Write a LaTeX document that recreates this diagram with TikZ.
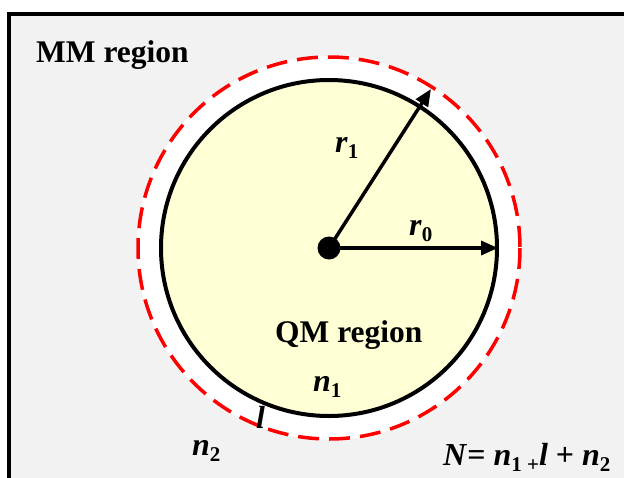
\documentclass[tikz,border=0pt]{standalone}
\usepackage{fontspec}
\setmainfont{Liberation Serif}
\usetikzlibrary{arrows.meta}
\definecolor{bggray}{HTML}{F2F2F2}
\definecolor{qmyellow}{HTML}{FFFFD6}
\newcommand{\bi}[1]{\textbf{\textit{#1}}}
\newcommand{\sbs}[1]{\raisebox{-0.2em}{\fontsize{21}{23}\selectfont\textbf{#1}}}
\tikzset{
  lbl/.style={anchor=base west, inner sep=0pt, font=\fontsize{32}{36}\selectfont},
  big/.style={anchor=base west, inner sep=0pt, font=\fontsize{31.5}{34}\selectfont\bfseries},
  radius arrow/.style={line width=3.5pt, -{Triangle[length=17pt,width=14pt]}},
}
\begin{document}
\begin{tikzpicture}[x=1pt,y=-1pt]
\useasboundingbox (0,0) rectangle (624,477);
\clip (0,0) rectangle (624,477);
\fill[white] (0,0) rectangle (624,477);
\draw[line width=3.5pt, fill=bggray] (9,14) rectangle (660,520);
\coordinate (c) at (329,248);
\fill[white] (c) circle[radius=192];
\draw[red, line width=3.5pt, dash pattern=on 21pt off 10pt] (c) circle[radius=191];
\draw[line width=4pt, fill=qmyellow] (c) circle[radius=168];
\fill (c) circle[radius=11.5];
\coordinate (t1) at (431,89);
\coordinate (t0) at (498,248);
\draw[radius arrow] (c) -- (t1);
\draw[radius arrow] (c) -- (t0);
\node[big] (mm) at (36,62) {MM region};
\node[big] (qm) at (275,342) {QM region};
\node[lbl] (r1) at (335,152) {\bi{r}\sbs{1}};
\node[lbl] (r0) at (409,235) {\bi{r}\sbs{0}};
\node[lbl] (n1) at (313,391) {\bi{n}\sbs{1}};
\node[lbl] (l) at (256,428) {\bi{l}};
\node[lbl] (n2) at (192,455) {\bi{n}\sbs{2}};
\node[lbl] (N) at (443,465) {\bi{N}\textbf{=} \bi{n}\sbs{1 +}\bi{l} \textbf{+} \bi{n}\sbs{2}};
\end{tikzpicture}
\end{document}
